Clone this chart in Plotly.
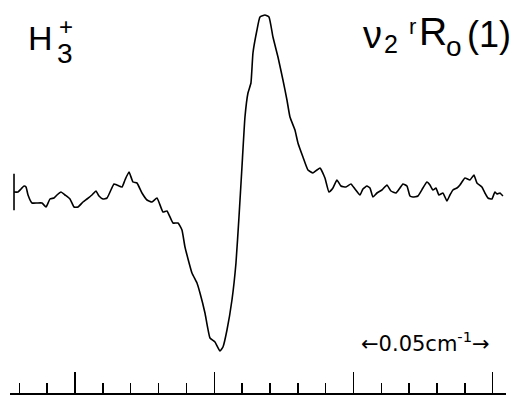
import plotly.graph_objects as go

# Wavenumber offset (10^-3 cm^-1) relative to first long tick, and signal (arb. units)
wavenumber_mK = [
    -21.90, -20.46, -19.39, -18.31, -17.59, -16.87, -15.44, -13.64, -11.85, -10.41,
    -8.98, -7.54, -6.46, -5.03, -3.59, -1.80, -0.36, 1.08, 2.87, 4.31,
    6.10, 7.54, 8.62, 10.05, 11.49, 12.57, 14.00, 15.08, 16.87, 17.95,
    19.39, 20.82, 22.26, 24.05, 25.85, 27.64, 29.44, 31.59, 33.03, 35.18,
    36.98, 38.41, 39.49, 42.00, 43.80, 44.88, 46.67, 48.47, 50.26, 52.06,
    53.13, 54.57, 56.36, 57.80, 58.88, 59.95, 61.03, 62.11, 63.18, 63.90,
    65.34, 66.42, 68.21, 69.65, 71.08, 72.88, 74.67, 76.11, 77.19, 78.98,
    80.06, 81.85, 83.65, 85.44, 86.88, 87.96, 89.75, 91.19, 92.62, 94.06,
    95.49, 97.29, 99.08, 100.52, 102.32, 103.39, 104.83, 105.91, 106.98, 108.42,
    110.21, 112.01, 113.44, 115.24, 116.68, 117.75, 119.19, 120.27, 121.34, 123.14,
    124.93, 126.37, 127.45, 128.52, 129.60, 130.68, 132.11, 133.55, 134.63, 135.70,
    137.14, 138.22, 140.01, 141.81, 143.24, 144.32, 146.11, 147.19, 148.27, 149.70,
    150.78, 151.50, 152.58, 153.65,
]
signal = [
    5, 5, 8, 11, 10, 2, -6, -6, -6, -10,
    -2, -1, 2, 5, 2, -2, -10, -10, -5, -2,
    2, 6, 1, -2, -1, 5, 13, 12, 10, 17,
    25, 15, 14, 4, -3, -5, -1, -15, -14, -26,
    -26, -33, -50, -76, -86, -96, -116, -141, -145, -154,
    -150, -133, -103, -66, -20, 30, 80, 104, 114, 144,
    167, 180, 182, 180, 160, 140, 117, 97, 80, 67,
    54, 40, 27, 24, 27, 29, 19, 5, 9, 17,
    11, 10, 13, 8, 2, 8, 11, 9, 0, 4,
    7, 12, 6, 4, 9, 13, 11, 1, 0, 1,
    9, 15, 12, 7, 9, 2, 4, -4, 2, 7,
    9, 12, 19, 17, 22, 14, 10, 4, -1, -2,
    5, 3, 4, 1,
]
assert len(wavenumber_mK) == len(signal)

W, H = 519, 395
ML, MR, MT, MB = 10, 13, 0, 2
PW, PH = W - ML - MR, H - MT - MB
Y_TOP = 197  # signal value at the top edge of the plot area
Y_SPAN = PH  # one signal unit per pixel


def px(x):
    return (x - ML) / PW


def py(y):
    return (H - MB - y) / PH


fig = go.Figure()
fig.add_trace(go.Scatter(
    x=wavenumber_mK, y=signal, mode="lines",
    line=dict(color="black", width=1.6, shape="spline", smoothing=0.4),
    showlegend=False, hoverinfo="skip",
))
# start-of-scan bar
fig.add_trace(go.Scatter(
    x=wavenumber_mK[:1], y=signal[:1], mode="markers",
    marker=dict(symbol="line-ns", size=26, line=dict(color="black", width=1.6)),
    showlegend=False, hoverinfo="skip",
))

FONT = "Liberation Sans, DejaVu Sans, sans-serif"
ARROW_FONT = "DejaVu Sans, sans-serif"
labels = [
    ("H", 40, 38, 34, FONT),
    ("+", 66, 26, 24, FONT),
    ("3", 65, 53, 28, FONT),
    ("ν", 372, 35, 38, FONT),
    ("2", 391, 44, 25, FONT),
    ("r", 412, 26, 22, FONT),
    ("R", 433, 32, 39, FONT),
    ("o", 454, 46, 28, FONT),
    ("(1)", 489, 34, 36, FONT),
    ("←0.05cm<sup>-1</sup>→", 425, 342, 21, ARROW_FONT),
]
for text, x, y, size, fam in labels:
    fig.add_annotation(
        text=text, xref="paper", yref="paper", x=px(x), y=py(y),
        xanchor="center", yanchor="middle", showarrow=False,
        font=dict(family=fam, size=size, color="black"),
    )

fig.update_layout(
    width=W, height=H,
    margin=dict(l=ML, r=MR, t=MT, b=MB, pad=0),
    paper_bgcolor="white", plot_bgcolor="white",
    hovermode=False,
    xaxis=dict(
        range=[-23.34, 154.76], showgrid=False, zeroline=False,
        showline=True, linecolor="black", linewidth=1.5,
        ticks="inside", ticklen=21, tickwidth=1.5, tickcolor="black",
        tick0=0, dtick=50, showticklabels=False,
        minor=dict(ticks="inside", ticklen=10, tickwidth=1.5, tickcolor="black",
                   tick0=0, dtick=10, showgrid=False),
    ),
    yaxis=dict(range=[Y_TOP - Y_SPAN, Y_TOP], showgrid=False, zeroline=False,
               showline=False, showticklabels=False, ticks=""),
)

fig.write_html(
    "out.html",
    config={"displayModeBar": False, "staticPlot": True},
    post_script="document.body.style.margin='0';document.body.style.overflow='hidden';",
)
